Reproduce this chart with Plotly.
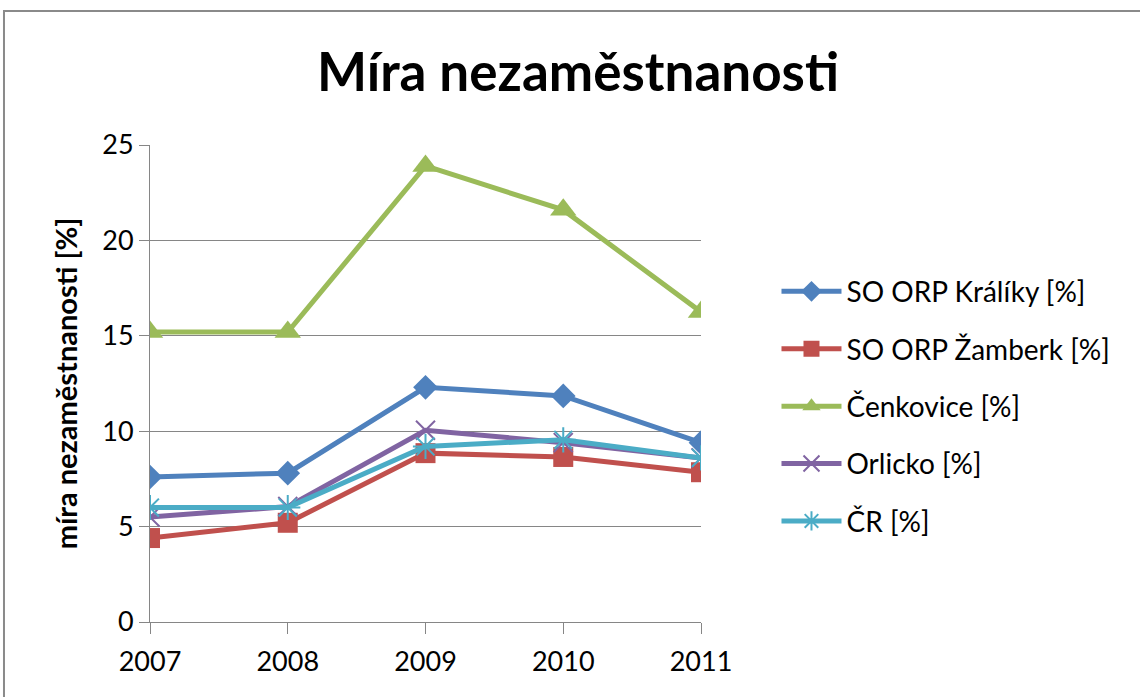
import plotly.graph_objects as go

years = [2007, 2008, 2009, 2010, 2011]
kraliky = [7.6, 7.8, 12.3, 11.85, 9.4]
zamberk = [4.4, 5.2, 8.85, 8.65, 7.85]
cenkovice = [15.2, 15.2, 23.9, 21.6, 16.25]
orlicko = [5.5, 6.05, 10.05, 9.4, 8.6]
cr = [6.0, 6.0, 9.2, 9.55, 8.6]

names = ["SO ORP Králíky [%]", "SO ORP Žamberk [%]", "Čenkovice [%]", "Orlicko [%]", "ČR [%]"]
series = [kraliky, zamberk, cenkovice, orlicko, cr]
colors = ["#4F81BD", "#C0504D", "#9BBB59", "#8064A2", "#4BACC6"]
symbols = ["diamond", "square", "triangle-up", "x-thin-open", "asterisk-open"]
sizes = [19, 20, 23, 19, 21]

fig = go.Figure()
for i, (n, vals) in enumerate(zip(names, series)):
    fig.add_trace(go.Scatter(
        x=years, y=vals, name=n, mode="lines+markers",
        legendgroup=f"g{i}",
        line=dict(color=colors[i], width=5),
        marker=dict(symbol=symbols[i], size=sizes[i], color=colors[i],
                    line=dict(color=colors[i], width=2 if i >= 3 else 0)),
    ))

fig.update_layout(
    width=1140, height=697,
    paper_bgcolor="white", plot_bgcolor="white",
    margin=dict(l=150, r=439, t=145, b=75),
    font=dict(family="Lato", color="#000000", size=27),
    title=dict(text="<b>Míra nezaměstnanosti</b>", x=0.507, xanchor="center",
               y=0.8967, yanchor="middle", font=dict(size=53, family="Lato")),
    showlegend=True,
    legend=dict(x=1.137, xanchor="left", y=0.745, yanchor="top",
                traceorder="grouped", tracegroupgap=18,
                font=dict(size=28), itemwidth=60, bgcolor="rgba(0,0,0,0)"),
    shapes=[dict(type="rect", xref="paper", yref="paper",
                 x0=-0.265, x1=2.0, y0=-1.0, y1=1.281,
                 line=dict(color="#8A8A8A", width=2), layer="below")],
)
fig.update_xaxes(range=[2007, 2011], tickvals=years, ticktext=[str(y) for y in years],
                 showgrid=False, showline=True, linecolor="#868686", linewidth=1,
                 zeroline=False,
                 ticks="outside", ticklen=11, tickcolor="#868686", tickwidth=1,
                 ticklabelstandoff=5,
                 tickfont=dict(size=27))
fig.update_yaxes(range=[0, 25], dtick=5, showgrid=True, gridcolor="#868686", gridwidth=1,
                 showline=True, linecolor="#868686", linewidth=1, zeroline=False,
                 ticks="outside", ticklen=10, tickcolor="#868686",
                 tickfont=dict(size=27),
                 title=dict(text="<b>míra nezaměstnanosti [%]</b>", font=dict(size=29), standoff=16))

fig.write_html("out.html", config={"displayModeBar": False},
               post_script="document.body.style.margin='0';")
